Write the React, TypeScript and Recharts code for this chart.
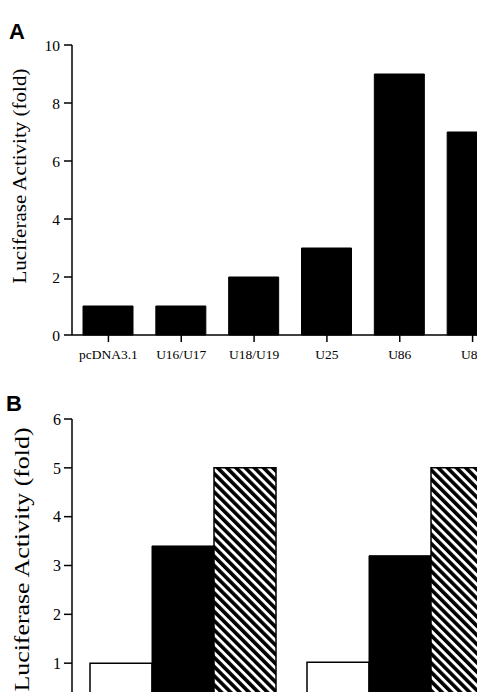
import React from 'react';
import { BarChart, Bar, XAxis, YAxis, Label } from 'recharts';

// Panel A data
const categoriesA = ['pcDNA3.1', 'U16/U17', 'U18/U19', 'U25', 'U86', 'U87'];
const valuesA = [1, 1, 2, 3, 9, 7];
const ticksA = [0, 2, 4, 6, 8, 10];

// Panel B data
const groupsB = ['G1', 'G2'];
const whiteB = [1, 1.02];
const blackB = [3.4, 3.2];
const hatchB = [5, 5];
const ticksB = [1, 2, 3, 4, 5, 6];

const dataA = categoriesA.map((name, i) => ({ name, value: valuesA[i] }));
const dataB = groupsB.map((name, i) => ({ name, white: whiteB[i], black: blackB[i], hatch: hatchB[i] }));

const SERIF = '"Liberation Serif", "Times New Roman", serif';
const SANS = '"Liberation Sans", Arial, sans-serif';

const makeYLabel = (fontSize: number, len: number, dx: number, dy: number) => (props: any) => {
  const vb = props.viewBox || { x: 0, y: 0, width: 0, height: 0 };
  const cx = vb.x + dx;
  const cy = vb.y + vb.height / 2 + dy;
  return (
    <text
      x={cx}
      y={cy}
      transform={`rotate(-90 ${cx} ${cy})`}
      textAnchor="middle"
      dominantBaseline="central"
      fontFamily={SERIF}
      fontSize={fontSize}
      fill="#000"
      textLength={len}
      lengthAdjust="spacingAndGlyphs"
    >
      Luciferase Activity (fold)
    </text>
  );
};

export default function App() {
  return (
    <div
      style={{
        position: 'fixed',
        left: 0,
        top: 0,
        width: 477,
        height: 692,
        overflow: 'hidden',
        background: '#fff',
      }}
    >
      <div style={{ position: 'absolute', left: 0, top: 35 }}>
        <BarChart
          width={520}
          height={345}
          data={dataA}
          margin={{ top: 10, right: 11, left: 12, bottom: 15 }}
          barSize={50}
        >
          <XAxis
            dataKey="name"
            interval={0}
            tickSize={7}
            tickMargin={7}
            height={30}
            axisLine={{ stroke: '#000', strokeWidth: 1.5 }}
            tickLine={{ stroke: '#000', strokeWidth: 1.5 }}
            tick={{ fill: '#000', fontSize: 13.5, fontFamily: SERIF }}
          />
          <YAxis
            domain={[0, 10]}
            ticks={ticksA}
            width={60}
            tickSize={8}
            tickMargin={4}
            axisLine={{ stroke: '#000', strokeWidth: 1.5 }}
            tickLine={{ stroke: '#000', strokeWidth: 1.5 }}
            tick={{ fill: '#000', fontSize: 15.5, fontFamily: SERIF }}
          >
            <Label content={makeYLabel(19, 215, 7, -14)} />
          </YAxis>
          <Bar dataKey="value" fill="#000" stroke="#000" strokeWidth={1} isAnimationActive={false} />
        </BarChart>
      </div>

      <div style={{ position: 'absolute', left: 0, top: 409 }}>
        <BarChart
          width={520}
          height={313}
          data={dataB}
          margin={{ top: 10, right: 12, left: 12, bottom: 10 }}
          barSize={62}
          barGap={0}
        >
          <defs>
            <pattern
              id="hatchB"
              patternUnits="userSpaceOnUse"
              width="6.5"
              height="6.5"
              patternTransform="rotate(-45)"
            >
              <rect x="0" y="0" width="6.5" height="6.5" fill="#fff" />
              <rect x="0" y="0" width="3.6" height="6.5" fill="#000" />
            </pattern>
          </defs>
          <XAxis dataKey="name" hide padding={{ left: 2, right: 0 }} />
          <YAxis
            domain={[0, 6]}
            ticks={ticksB}
            width={60}
            tickSize={8}
            tickMargin={3}
            axisLine={{ stroke: '#000', strokeWidth: 1.5 }}
            tickLine={{ stroke: '#000', strokeWidth: 1.5 }}
            tick={{ fill: '#000', fontSize: 16, fontFamily: SERIF }}
          >
            <Label content={makeYLabel(20, 264, 10, -6)} />
          </YAxis>
          <Bar dataKey="white" fill="#fff" stroke="#000" strokeWidth={1.5} isAnimationActive={false} />
          <Bar dataKey="black" fill="#000" stroke="#000" strokeWidth={1} isAnimationActive={false} />
          <Bar dataKey="hatch" fill="url(#hatchB)" stroke="#000" strokeWidth={1.5} isAnimationActive={false} />
        </BarChart>
      </div>

      <svg
        width={477}
        height={692}
        style={{ position: 'absolute', left: 0, top: 0, pointerEvents: 'none' }}
      >
        <text x={9} y={39} fontFamily={SANS} fontWeight="bold" fontSize={22} fill="#000">A</text>
        <text x={6} y={411} fontFamily={SANS} fontWeight="bold" fontSize={22} fill="#000">B</text>
      </svg>
    </div>
  );
}
